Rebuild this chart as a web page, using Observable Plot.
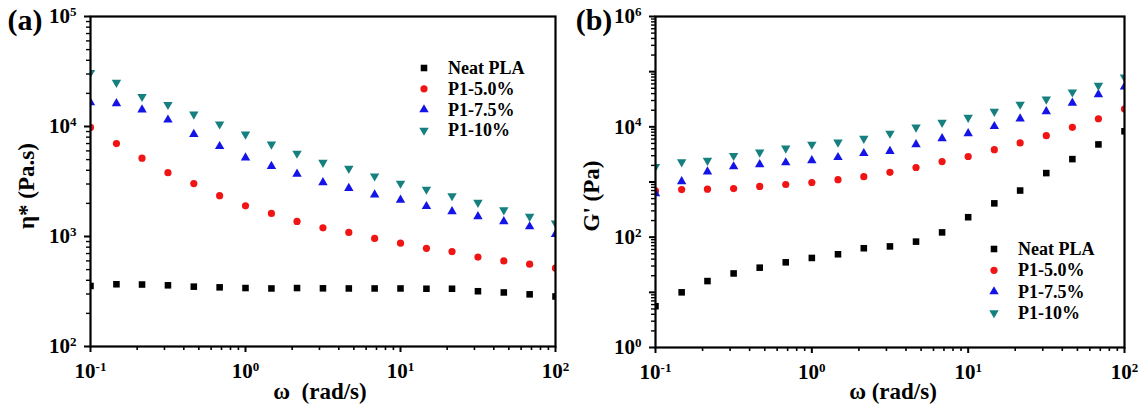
<!DOCTYPE html>
<html><head><meta charset="utf-8">
<script src="https://cdn.jsdelivr.net/npm/d3@7"></script>
<script src="https://cdn.jsdelivr.net/npm/@observablehq/plot@0.6"></script>
<style>
body{margin:0;background:#fff;}
#wrap{position:relative;width:1141px;height:406px;overflow:hidden;font-family:"Liberation Serif","Times New Roman",serif;font-weight:bold;color:#000;}
.panel{position:absolute;top:0;}
.abs{position:absolute;white-space:pre;font-weight:bold;}
</style></head>
<body><div id="wrap"></div>
<script>
// ---- data ----
const omega = [0.1, 0.147, 0.215, 0.316, 0.464, 0.681, 1, 1.47, 2.15, 3.16, 4.64, 6.81, 10, 14.7, 21.5, 31.6, 46.4, 68.1, 100];
const seriesNames = ["Neat PLA", "P1-5.0%", "P1-7.5%", "P1-10%"];
const seriesColors = ["#000000", "#f01414", "#1414e6", "#168080"];

// panel (a): complex viscosity eta* (Pa.s)
const etaNeat = [355, 368, 366, 360, 350, 345, 340, 337, 340, 338, 337, 337, 337, 335, 335, 318, 310, 298, 285];
const eta50   = [9800, 7000, 5150, 3800, 3030, 2350, 1900, 1620, 1370, 1200, 1090, 960, 870, 780, 730, 650, 600, 560, 515];
const eta75   = [16500, 16200, 14200, 11500, 8500, 6600, 5200, 4350, 3700, 3100, 2750, 2400, 2150, 1880, 1690, 1520, 1370, 1230, 1050];
const eta10   = [30900, 25100, 18700, 15800, 12900, 10500, 8500, 6900, 5700, 4700, 4150, 3540, 3040, 2680, 2340, 2040, 1740, 1520, 1320];

// panel (b): storage modulus G' (Pa)
const gNeat = [5.6, 10, 16, 22, 28, 35, 42, 49, 63, 68, 83, 122, 230, 410, 700, 1450, 2600, 4800, 8300];
const g50   = [690, 730, 740, 760, 830, 900, 980, 1100, 1250, 1500, 1830, 2350, 2900, 3850, 5100, 6900, 9800, 14000, 21000];
const g75   = [620, 1020, 1540, 1900, 2080, 2250, 2450, 2800, 3300, 3600, 4800, 6150, 7600, 10200, 14000, 19000, 27000, 38500, 53000];
const g10   = [1900, 2300, 2450, 3000, 3450, 4100, 4800, 5250, 6150, 7600, 9800, 12000, 14800, 19000, 25500, 31600, 42500, 56000, 79000];

// tick values
const xMajor = [0.1, 1, 10, 100];
const yMajorA = [1e2, 1e3, 1e4, 1e5];
const yMajorB = [1, 1e2, 1e4, 1e6];
const yDecadeB = [10, 1e3, 1e5];

// ---- helpers ----
const triDown = {
  draw(ctx, size) {
    const y = -Math.sqrt(size / (Math.sqrt(3) * 3));
    ctx.moveTo(0, -y * 2);
    ctx.lineTo(-Math.sqrt(3) * y, y);
    ctx.lineTo(Math.sqrt(3) * y, y);
    ctx.closePath();
  }
};
const seriesSymbols = [d3.symbolSquare, d3.symbolCircle, d3.symbolTriangle, triDown];
const seriesR = [3.7, 3.6, 3.5, 3.5];

function minorTicks(lo, hi) {
  const out = [];
  for (let e = lo; e < hi; e++) for (let k = 2; k <= 9; k++) out.push(k * Math.pow(10, e));
  return out;
}
const fmt = d => "10^" + Math.round(Math.log10(d));

function toRows(values) { return omega.map((w, i) => ({w, v: values[i]})); }

function supify(svg) {
  d3.select(svg).selectAll("text").each(function () {
    const t = this.textContent;
    if (!t.includes("^")) return;
    const [base, exp] = t.split("^");
    const sel = d3.select(this);
    sel.text(base);
    sel.append("tspan").attr("dy", "-0.55em").attr("font-size", "13px").text(exp);
  });
}

function panel({left, width, margins, yDomain, yMajor, yExtra, yMinor, sets}) {
  const marks = [];
  sets.forEach((vals, i) => {
    marks.push(Plot.dot(toRows(vals), {
      x: "w", y: "v", symbol: seriesSymbols[i], r: seriesR[i],
      fill: seriesColors[i], stroke: "none", clip: true
    }));
  });
  marks.push(
    Plot.axisX(xMajor, {tickSize: 6, tickPadding: 11, tickFormat: fmt, strokeWidth: 2, fontSize: 21, label: null}),
    Plot.axisX(minorTicks(-1, 2), {tickSize: 4, tickFormat: () => "", strokeWidth: 1.6, label: null}),
    Plot.axisY(yMajor, {tickSize: 6, tickPadding: 8, tickFormat: fmt, strokeWidth: 2, fontSize: 21, label: null}),
    Plot.axisY(yMinor, {tickSize: 4, tickFormat: () => "", strokeWidth: 1.4, label: null})
  );
  if (yExtra) marks.push(Plot.axisY(yExtra, {tickSize: 6, tickFormat: () => "", strokeWidth: 2, label: null}));
  marks.push(Plot.frame({stroke: "#000", strokeWidth: 2.2}));
  const svg = Plot.plot({
    width, height: 406,
    marginTop: margins[0], marginRight: margins[1], marginBottom: margins[2], marginLeft: margins[3],
    style: {fontFamily: '"Liberation Serif","Times New Roman",serif', fontWeight: "bold", fontSize: "21px", color: "#000", background: "transparent"},
    x: {type: "log", domain: [0.1, 100], label: null},
    y: {type: "log", domain: yDomain, label: null},
    marks
  });
  supify(svg);
  const div = document.createElement("div");
  div.className = "panel";
  div.style.left = left + "px";
  div.appendChild(svg);
  document.getElementById("wrap").appendChild(div);
}

panel({left: 0, width: 570, margins: [16, 15, 60, 90], yDomain: [1e2, 1e5], yMajor: yMajorA,
       yMinor: minorTicks(2, 5), sets: [etaNeat, eta50, eta75, eta10]});
panel({left: 570, width: 571, margins: [16, 17, 59, 85], yDomain: [1, 1e6], yMajor: yMajorB, yExtra: yDecadeB,
       yMinor: minorTicks(0, 6), sets: [gNeat, g50, g75, g10]});

// ---- text & legends ----
const wrap = document.getElementById("wrap");
function addText(txt, x, y, size, rotate) {
  const el = document.createElement("div");
  el.className = "abs";
  el.textContent = txt;
  el.style.fontSize = size + "px";
  el.style.left = x + "px";
  el.style.top = y + "px";
  el.style.transform = "translate(-50%,-50%)" + (rotate ? " rotate(-90deg)" : "");
  wrap.appendChild(el);
}
addText("(a)", 25, 20, 30);
addText("(b)", 594, 20, 30);
addText("ω  (rad/s)", 320, 392, 23);
addText("ω (rad/s)", 893, 392, 23);
addText("η* (Pa.s)", 27, 186, 23, true);
addText("G' (Pa)", 592, 196, 23, true);

function legend(mx, tx, y0, step) {
  const svg = d3.select(wrap).append("svg")
    .attr("width", 1141).attr("height", 406)
    .style("position", "absolute").style("left", 0).style("top", 0);
  seriesNames.forEach((name, i) => {
    const y = y0 + i * step;
    svg.append("path")
      .attr("d", d3.symbol(seriesSymbols[i], Math.PI * seriesR[i] * seriesR[i])())
      .attr("transform", `translate(${mx},${y})`)
      .attr("fill", seriesColors[i]);
    svg.append("text").attr("x", tx).attr("y", y + 6)
      .attr("font-family", '"Liberation Serif","Times New Roman",serif')
      .attr("font-weight", "bold").attr("font-size", 18).text(name);
  });
}
legend(424, 448, 68, 20.8);
legend(994, 1018, 249, 21.3);
</script>
</body></html>
